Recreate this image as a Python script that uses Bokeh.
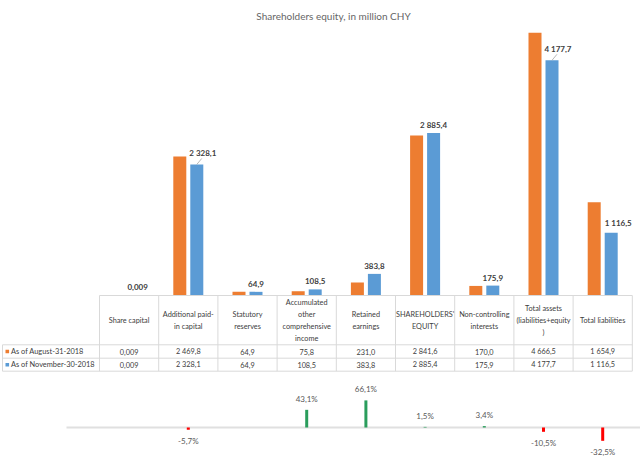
from bokeh.plotting import figure
from bokeh.models import ColumnDataSource, Range1d, Label
from bokeh.core.properties import value
from bokeh.embed import file_html
from bokeh.resources import INLINE

# ---------------- data ----------------
title = "Shareholders equity, in million CHY"
categories = ["Share capital", "Additional paid-\nin capital", "Statutory\nreserves",
              "Accumulated\nother\ncomprehensive\nincome", "Retained\nearnings",
              "SHAREHOLDERS'\nEQUITY", "Non-controlling\ninterests",
              "Total assets\n(liabilities+equity\n)", "Total liabilities"]
series_names = ["As of August-31-2018", "As of November-30-2018"]
aug_2018 = [0.009, 2469.8, 64.9, 75.8, 231.0, 2841.6, 170.0, 4666.5, 1654.9]
nov_2018 = [0.009, 2328.1, 64.9, 108.5, 383.8, 2885.4, 175.9, 4177.7, 1116.5]
change_pct = [None, -5.7, None, 43.1, 66.1, 1.5, 3.4, -10.5, -32.5]

# ---------------- style / layout ----------------
W, H = 640, 465
OX, OY = 0, 0
COL0, COLW = 99.0, 59.2
BASE, K = 295.0, 0.0563
ZERO, KP = 427.0, 0.41
TBL_TOP, HDR_BOT, R1_BOT, R2_BOT = 295.0, 344.3, 357.7, 370.7
ORANGE, BLUE = "#ED7D31", "#5B9BD5"
GREEN, RED = "#2A9D5C", "#FF0000"
GRID = "#D9D9D9"
FONT = "Lato"
leader_idx = [1, 7]
shifted_idx = [8]


def fx(rx):
    return (rx - COL0) / COLW


def fmt(v):
    s = f"{v:.3f}" if v < 1 else f"{v:,.1f}"
    return s.replace(",", " ").replace(".", ",")


p = figure(width=W, height=H, output_backend="svg", toolbar_location=None,
           x_axis_location=None, y_axis_location=None, min_border=0,
           x_range=Range1d(fx(OX), fx(OX + W)),
           y_range=Range1d(-(OY + H - BASE) / K, (BASE - OY) / K))
p.extra_y_ranges = {
    "pct": Range1d(-(OY + H - ZERO) / KP, (ZERO - OY) / KP),
    "tbl": Range1d(OY + H, OY),
}
p.grid.visible = False
p.outline_line_color = None
p.background_fill_color = "white"

n = len(categories)
centers = [i + 0.5 for i in range(n)]
off = 8.5 / COLW
bw = 13.0 / COLW

src = ColumnDataSource(dict(
    xa=[c - off for c in centers], xb=[c + off for c in centers],
    aug=aug_2018, nov=nov_2018))
p.vbar(x="xa", top="aug", bottom=0, width=bw, source=src,
       fill_color=ORANGE, line_color=None)
p.vbar(x="xb", top="nov", bottom=0, width=bw, source=src,
       fill_color=BLUE, line_color=None)

# value labels on the blue series
norm = [i for i in range(n) if i not in leader_idx and i not in shifted_idx]
lead = [i for i in range(n) if i in leader_idx]
shft = [i for i in range(n) if i in shifted_idx]
lab_kw = dict(text_font=value(FONT), text_font_size="8px", text_font_style="bold",
              text_color="#404040", text_align="center", text_baseline="middle")
p.text(x=[centers[i] + off for i in norm], y=[nov_2018[i] for i in norm],
       text=[fmt(nov_2018[i]) for i in norm], y_offset=-8, **lab_kw)
p.text(x=[centers[i] + off for i in shft], y=[nov_2018[i] for i in shft],
       text=[fmt(nov_2018[i]) for i in shft], x_offset=7, y_offset=-9.5, **lab_kw)
p.text(x=[centers[i] + off for i in lead], y=[nov_2018[i] for i in lead],
       text=[fmt(nov_2018[i]) for i in lead], x_offset=6, y_offset=-11.5, **lab_kw)
p.segment(x0=[centers[i] + off for i in lead], y0=[nov_2018[i] for i in lead],
          x1=[centers[i] + off + 5 / COLW for i in lead],
          y1=[nov_2018[i] + 6 / K for i in lead],
          line_color="#A6A6A6", line_width=0.8)

# ---------------- data table ----------------
tk = dict(y_range_name="tbl", line_color=GRID, line_width=1)
p.segment(x0=list(range(n + 1)), x1=list(range(n + 1)),
          y0=[TBL_TOP] * (n + 1), y1=[R2_BOT] * (n + 1), **tk)
p.segment(x0=[0, fx(2), fx(2), fx(2), fx(2)], x1=[n, n, n, n, fx(2)],
          y0=[TBL_TOP, HDR_BOT, R1_BOT, R2_BOT, HDR_BOT],
          y1=[TBL_TOP, HDR_BOT, R1_BOT, R2_BOT, R2_BOT], **tk)

txt_kw = dict(y_range_name="tbl", text_font=value(FONT), text_font_size="7.3px",
              text_color="#404040", text_baseline="middle")
p.text(x=centers, y=[(TBL_TOP + HDR_BOT) / 2] * n, text=categories,
       text_align="center", text_line_height=1.33, **txt_kw)
r1 = (HDR_BOT + R1_BOT) / 2
r2 = (R1_BOT + R2_BOT) / 2
p.text(x=centers, y=[r1] * n, text=[fmt(v) for v in aug_2018], text_align="center", **txt_kw)
p.text(x=centers, y=[r2] * n, text=[fmt(v) for v in nov_2018], text_align="center", **txt_kw)
p.scatter(x=[fx(6.8)] * 2, y=[r1, r2], marker="square", size=3.6,
          fill_color=[ORANGE, BLUE], line_color=None, y_range_name="tbl")
p.text(x=[fx(10.5)] * 2, y=[r1, r2], text=series_names, text_align="left",
       **{**txt_kw, "text_font_size": "7.4px"})

# ---------------- change chart ----------------
p.segment(x0=[fx(66)], x1=[fx(OX + W)], y0=[0], y1=[0], y_range_name="pct",
          line_color="#E0E0E0", line_width=2)
idx = [i for i in range(n) if change_pct[i] is not None]
pos = [i for i in idx if change_pct[i] >= 0]
neg = [i for i in idx if change_pct[i] < 0]
pw = 3 / COLW
p.vbar(x=[centers[i] for i in pos], top=[change_pct[i] for i in pos], bottom=0,
       width=pw, fill_color=GREEN, line_color=None, y_range_name="pct")
p.vbar(x=[centers[i] for i in neg], top=[change_pct[i] for i in neg], bottom=0,
       width=pw, fill_color=RED, line_color=None, y_range_name="pct")
pct_kw = dict(y_range_name="pct", text_font=value(FONT), text_font_size="8px",
              text_color="#595959", text_align="center", text_baseline="middle")
pfmt = lambda v: f"{v:.1f}%".replace(".", ",")
p.text(x=[centers[i] for i in pos], y=[change_pct[i] for i in pos],
       text=[pfmt(change_pct[i]) for i in pos], y_offset=-11, **pct_kw)
p.text(x=[centers[i] for i in neg], y=[change_pct[i] for i in neg],
       text=[pfmt(change_pct[i]) for i in neg], y_offset=11.5, **pct_kw)

# ---------------- title ----------------
p.add_layout(Label(x=333 - OX, y=H - (15 - OY), x_units="screen", y_units="screen",
                   text=title, text_font=FONT, text_font_size="10px",
                   text_color="#666666", text_align="center", text_baseline="middle"))

open("out.html", "w").write(file_html(p, INLINE, title=title))
